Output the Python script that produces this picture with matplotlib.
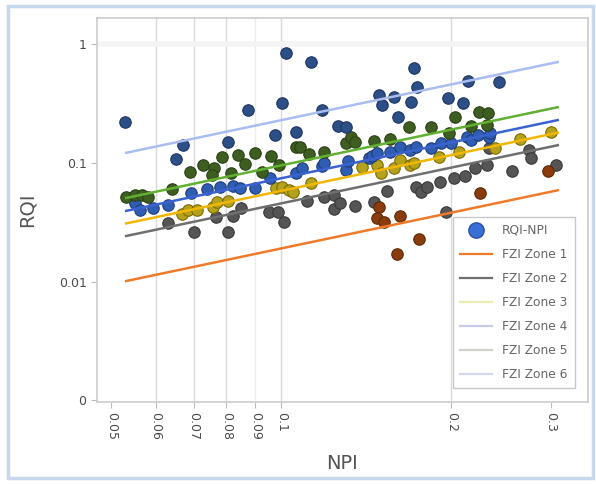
import matplotlib
matplotlib.use("Agg")
import matplotlib.pyplot as plt
import numpy as np
from matplotlib.lines import Line2D
from matplotlib.patches import Rectangle

# ---- data ----
navy_npi = [0.0529, 0.0651, 0.0670, 0.0804, 0.0872, 0.0976, 0.1004, 0.102, 0.106, 0.113, 0.118, 0.126,
            0.130, 0.149, 0.151, 0.158, 0.161, 0.170, 0.172, 0.174, 0.197, 0.210, 0.214, 0.243]
navy_rqi = [0.221, 0.108, 0.142, 0.150, 0.279, 0.172, 0.320, 0.84, 0.182, 0.706, 0.279, 0.204,
            0.200, 0.373, 0.307, 0.359, 0.243, 0.326, 0.629, 0.435, 0.352, 0.320, 0.489, 0.480]

green_npi = [0.0532, 0.0551, 0.0567, 0.0581, 0.0640, 0.0689, 0.0726, 0.0759, 0.0753, 0.0784, 0.0816,
             0.0837, 0.0861, 0.0897, 0.0923, 0.0960, 0.0992, 0.106, 0.108, 0.112, 0.119, 0.130, 0.133,
             0.135, 0.146, 0.156, 0.168, 0.184, 0.198, 0.203, 0.217, 0.224, 0.232, 0.231]
green_rqi = [0.0518, 0.0539, 0.0539, 0.0518, 0.0604, 0.0840, 0.0962, 0.0908, 0.0793, 0.112, 0.0824,
             0.117, 0.098, 0.121, 0.0840, 0.114, 0.0962, 0.136, 0.136, 0.119, 0.124, 0.147, 0.165,
             0.150, 0.153, 0.159, 0.200, 0.200, 0.179, 0.243, 0.204, 0.268, 0.262, 0.209]

blue_npi = [0.0551, 0.0562, 0.0593, 0.0630, 0.0692, 0.0738, 0.0778, 0.0823, 0.0844, 0.0897, 0.0957,
            0.106, 0.109, 0.118, 0.119, 0.130, 0.131, 0.143, 0.145, 0.148, 0.156, 0.162, 0.169, 0.173,
            0.184, 0.192, 0.200, 0.213, 0.217, 0.223, 0.233, 0.234]
blue_rqi = [0.0461, 0.0403, 0.0419, 0.0444, 0.0560, 0.0604, 0.0629, 0.0641, 0.0616, 0.0616, 0.0748,
            0.0824, 0.0908, 0.0944, 0.100, 0.0873, 0.104, 0.110, 0.114, 0.121, 0.124, 0.136, 0.129, 0.136,
            0.134, 0.147, 0.147, 0.165, 0.156, 0.172, 0.165, 0.179]

yellow_npi = [0.0667, 0.0683, 0.0709, 0.0756, 0.0771, 0.0804, 0.0980, 0.1003, 0.103, 0.105, 0.113,
              0.139, 0.148, 0.150, 0.158, 0.162, 0.169, 0.172, 0.190, 0.206, 0.239, 0.265, 0.300]
yellow_rqi = [0.0373, 0.0403, 0.0403, 0.0427, 0.0470, 0.0479, 0.0616, 0.0629, 0.0593, 0.0571, 0.0679,
              0.0926, 0.0962, 0.0824, 0.0908, 0.106, 0.0962, 0.100, 0.112, 0.124, 0.134, 0.159, 0.182]

gray_npi = [0.0630, 0.0700, 0.0768, 0.0804, 0.0820, 0.0848, 0.0953, 0.0988, 0.101, 0.111, 0.119, 0.124,
            0.124, 0.127, 0.135, 0.146, 0.154, 0.173, 0.177, 0.181, 0.191, 0.202, 0.211, 0.220, 0.231,
            0.233, 0.256, 0.274, 0.277, 0.306, 0.196]
gray_rqi = [0.0313, 0.0263, 0.0352, 0.0263, 0.0359, 0.0419, 0.0388, 0.0388, 0.0319, 0.0479, 0.0518, 0.0539,
            0.0411, 0.0461, 0.0435, 0.0470, 0.0582, 0.0629, 0.0571, 0.0629, 0.0693, 0.0748, 0.0778, 0.0908,
            0.0962, 0.134, 0.0857, 0.129, 0.110, 0.0962, 0.0388]

brown_npi = [0.149, 0.148, 0.152, 0.162, 0.175, 0.160, 0.225, 0.297]
brown_rqi = [0.0427, 0.0345, 0.0319, 0.0359, 0.0226, 0.0172, 0.0560, 0.0857]

fzi_values = [0.19, 0.455, 0.58, 0.74, 0.95, 2.28]
zone_labels = ["FZI Zone 1", "FZI Zone 2", "FZI Zone 3", "FZI Zone 4", "FZI Zone 5", "FZI Zone 6"]
npi_line_range = [0.0529, 0.31]

x_ticks = [0.05, 0.06, 0.07, 0.08, 0.09, 0.1, 0.2, 0.3]
x_tick_labels = ["0.05", "0.06", "0.07", "0.08", "0.09", "0.1", "0.2", "0.3"]
y_ticks = [0.001, 0.01, 0.1, 1]
y_tick_labels = ["0", "0.01", "0.1", "1"]

# ---- styling ----
line_colors = ["#f07a2a", "#6f6f6f", "#f2b705", "#3a62d0", "#62b032", "#a9bdf0"]
legend_colors = ["#f07a2a", "#6f6f6f", "#ecebb0", "#c9cbe8", "#cfd2c8", "#d6d8ef"]
groups = [
    (gray_npi, gray_rqi, "#555555", "#3a3a3a"),
    (brown_npi, brown_rqi, "#8b3c0c", "#5c2806"),
    (yellow_npi, yellow_rqi, "#b5a21c", "#7f6a00"),
    (blue_npi, blue_rqi, "#2f5db2", "#1f3d7c"),
    (green_npi, green_rqi, "#3d5e20", "#2a4216"),
    (navy_npi, navy_rqi, "#2d4f88", "#1e3560"),
]

fig = plt.figure(figsize=(5.96, 4.84), dpi=100)
fig.patch.set_facecolor("white")
fig.patches.append(Rectangle((8 / 596, 6 / 484), 585 / 596, 472 / 484, transform=fig.transFigure,
                             fill=False, edgecolor="#c6d8ee", linewidth=2.5))
ax = fig.add_axes([97 / 596, 82 / 484, 491 / 596, 384 / 484])
ax.set_xscale("log")
ax.set_yscale("log")
ax.set_xlim(0.0472, 0.349)
ax.set_ylim(0.00097, 1.65)

for xs, ys, fc, ec in groups:
    ax.scatter(xs, ys, s=68, c=fc, edgecolors=ec, linewidths=0.8, zorder=3)

xl = np.array(npi_line_range)
for f, col in zip(fzi_values, line_colors):
    ax.plot(xl, f * xl, color=col, lw=1.8, zorder=4, solid_capstyle="butt")

ax.set_xticks(x_ticks)
ax.set_xticklabels(x_tick_labels, rotation=-90, fontsize=9, color="#4a4a4a")
ax.xaxis.set_minor_locator(matplotlib.ticker.LogLocator(base=10, subs=np.arange(1, 10) * 0.1, numticks=50))
ax.xaxis.set_minor_formatter(matplotlib.ticker.NullFormatter())
ax.set_yticks(y_ticks)
ax.set_yticklabels(y_tick_labels, fontsize=9, color="#4a4a4a")
ax.yaxis.set_minor_locator(matplotlib.ticker.NullLocator())
ax.tick_params(axis="both", which="major", length=4, color="#bbbbbb")
ax.tick_params(axis="x", which="minor", length=2, color="#bbbbbb")

for v in [0.06, 0.07, 0.08, 0.1, 0.2]:
    ax.axvline(v, color="#d9d9d9", lw=1, zorder=1)
ax.axvline(0.09, color="#ececec", lw=1, zorder=1)
ax.axhline(1, color="#f4f4f4", lw=4, zorder=1)

for sp in ax.spines.values():
    sp.set_color("#cccccc")
    sp.set_linewidth(1.2)

ax.set_ylabel("RQI", fontsize=14, color="#555555", labelpad=16)
ax.set_xlabel("NPI", fontsize=14, color="#555555", labelpad=10)

handles = [Line2D([], [], marker="o", ls="", markersize=11, markerfacecolor="#3a6fd8",
                  markeredgecolor="#2a50a0")]
for col, lab in zip(legend_colors, zone_labels):
    handles.append(Line2D([], [], color=col, lw=1.6))
labels = ["RQI-NPI"] + zone_labels
leg = ax.legend(handles, labels, loc="lower right", bbox_to_anchor=(0.985, 0.02), fontsize=8.8,
                frameon=True, fancybox=False, edgecolor="#bbbbbb", labelspacing=0.9,
                handlelength=2.6, borderpad=0.6)
for t in leg.get_texts():
    t.set_color("#666666")
leg.set_zorder(6)

fig.savefig("out.png", dpi=100)
